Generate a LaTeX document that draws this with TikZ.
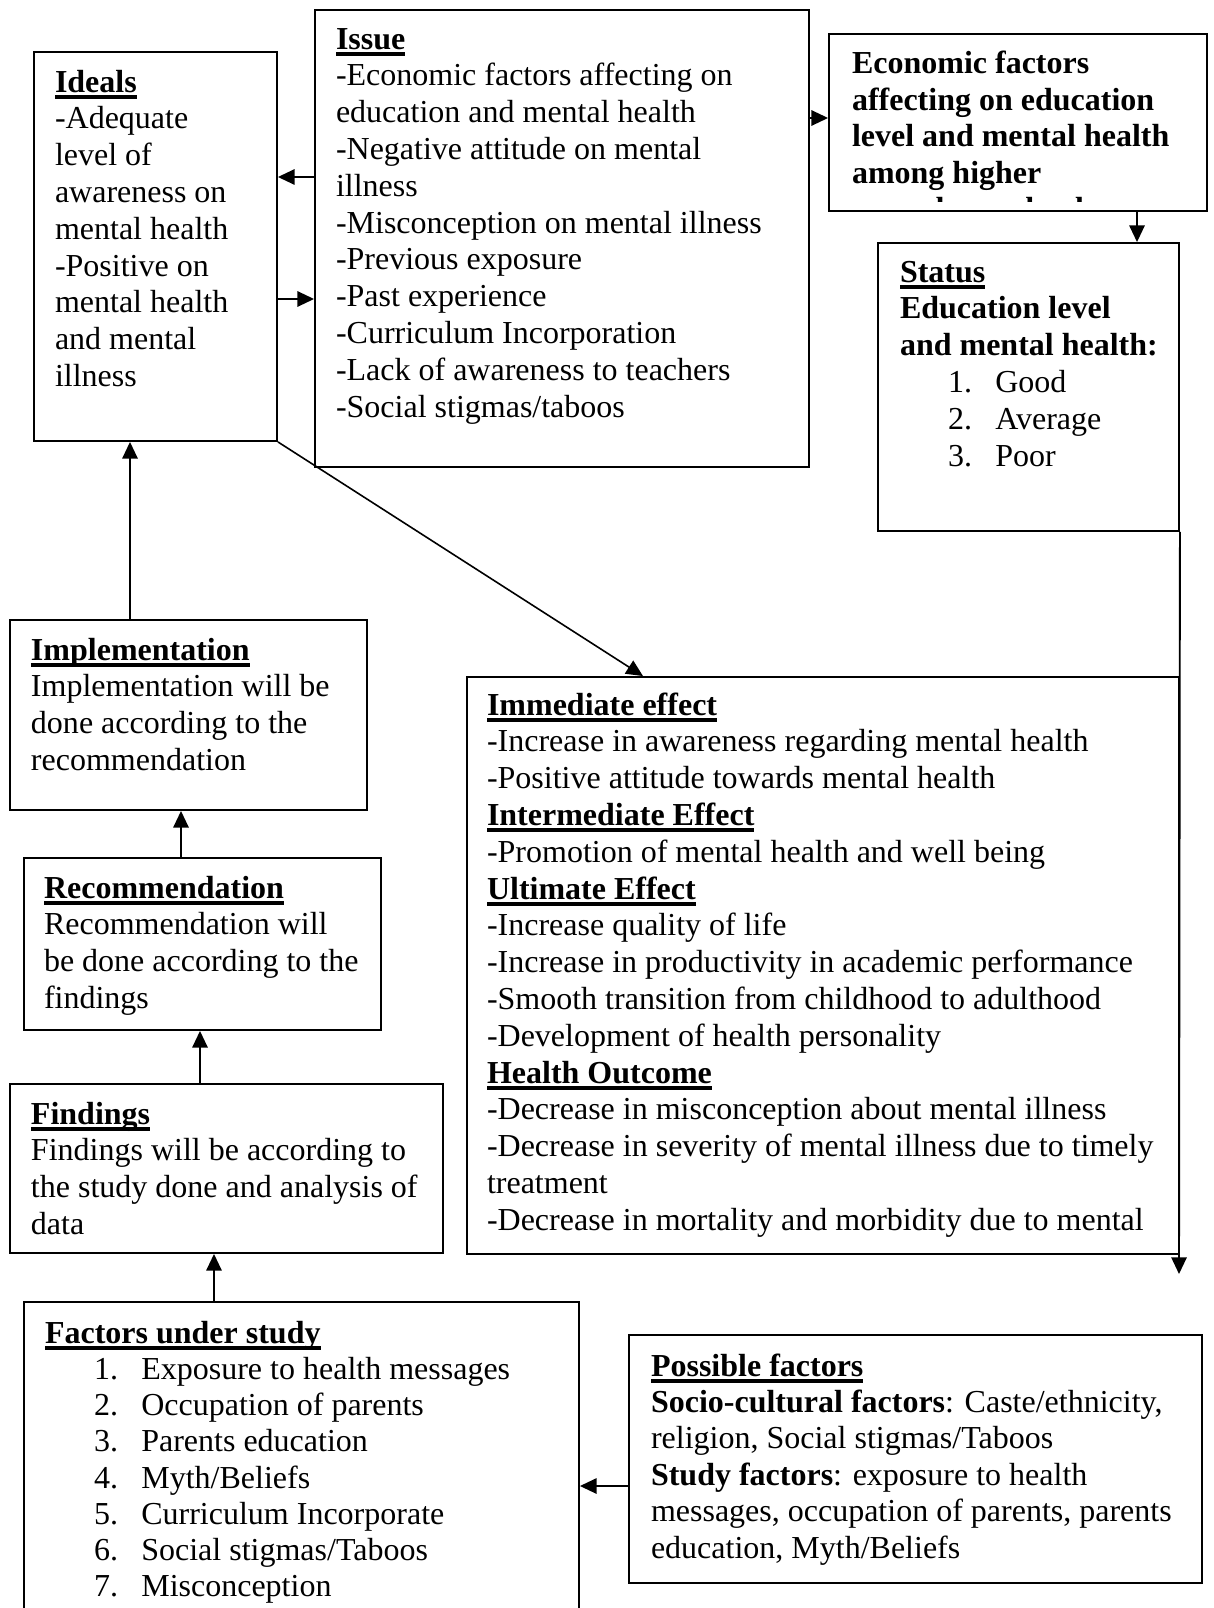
\documentclass[tikz,border=0pt]{standalone}
\usepackage{fontspec}
\setmainfont{Liberation Serif}
\usetikzlibrary{arrows.meta,fit}
\newcommand\hdr[1]{\setbox0\hbox{\bfseries #1}\rlap{\rule[-5.25pt]{\wd0}{3pt}}\box0}
\newcommand\itm[1]{\makebox[35.5pt][l]{#1}}
\newcommand\fl{\rule{0pt}{19pt}}
\tikzset{
  boxst/.style={draw, line width=1.4pt, inner sep=0pt},
  txt/.style={inner sep=0pt, outer sep=0pt, anchor=north west, yshift=19pt, align=left, font=\fontsize{24}{27.6}\selectfont},
  arr/.style={line width=1.4pt, -{Triangle[length=12.5pt,width=11.5pt]}},
}
\begin{document}
\begin{tikzpicture}[x=0.75pt,y=-0.75pt]
\useasboundingbox (0,0) rectangle (1213,1608);
\clip (0,0) rectangle (1213,1608);
\fill[white] (0,0) rectangle (1213,1608);

% boxes
\node[boxst, fit={(34,52) (277,441)}] (ideals) {};
\node[boxst, fit={(315,10) (809,467)}] (issue) {};
\node[boxst, fit={(829,34) (1207,211)}] (econ) {};
\node[boxst, fit={(878,243) (1179,531)}] (status) {};
\node[boxst, fit={(467,677) (1179,1254)}] (effect) {};
\node[boxst, fit={(10,620) (367,810)}] (impl) {};
\node[boxst, fit={(24,858) (381,1030)}] (rec) {};
\node[boxst, fit={(10,1084) (443,1253)}] (find) {};
\node[boxst, fit={(24,1302) (579,1640)}] (factors) {};
\node[boxst, fit={(629,1335) (1202,1583)}] (possible) {};

% texts
\node[txt] (tideals) at (55,92) {\fl\hdr{Ideals}\\-Adequate\\level of\\awareness on\\mental health\\-Positive on\\mental health\\and mental\\illness};
\node[txt] (tissue) at (336,49) {\fl\hdr{Issue}\\-Economic factors affecting on\\education and mental health\\-Negative attitude on mental\\illness\\-Misconception on mental illness\\-Previous exposure\\-Past experience\\-Curriculum Incorporation\\-Lack of awareness to teachers\\-Social stigmas/taboos};
\begin{scope}
\clip (829,34) rectangle (1207,202);
\node[txt, font=\fontsize{24}{27.3}\selectfont\bfseries] (tecon) at (852,74) {\fl Economic factors\\affecting on education\\level and mental health\\among higher\\secondary school};
\end{scope}
\node[txt] (tstatus) at (900,282) {\fl\hdr{Status}\\\textbf{Education level}\\\textbf{and mental health:}\\\hspace{36pt}\itm{1.}Good\\\hspace{36pt}\itm{2.}Average\\\hspace{36pt}\itm{3.}Poor};
\node[txt] (timpl) at (31,660) {\fl\hdr{Implementation}\\Implementation will be\\done according to the\\recommendation};
\node[txt] (trec) at (44,898) {\fl\hdr{Recommendation}\\Recommendation will\\be done according to the\\findings};
\node[txt] (tfind) at (31,1124) {\fl\hdr{Findings}\\Findings will be according to\\the study done and analysis of\\data};
\node[txt] (teffect) at (487,715) {\fl\hdr{Immediate effect}\\-Increase in awareness regarding mental health\\-Positive attitude towards mental health\\\hdr{Intermediate Effect}\\-Promotion of mental health and well being\\\hdr{Ultimate Effect}\\-Increase quality of life\\-Increase in productivity in academic performance\\-Smooth transition from childhood to adulthood\\-Development of health personality\\\hdr{Health Outcome}\\-Decrease in misconception about mental illness\\-Decrease in severity of mental illness due to timely\\treatment\\-Decrease in mortality and morbidity due to mental};
\node[txt, font=\fontsize{24}{27.2}\selectfont] (tfactors) at (45,1343) {\fl\hdr{Factors under study}\\\hspace{36.75pt}\itm{1.}Exposure to health messages\\\hspace{36.75pt}\itm{2.}Occupation of parents\\\hspace{36.75pt}\itm{3.}Parents education\\\hspace{36.75pt}\itm{4.}Myth/Beliefs\\\hspace{36.75pt}\itm{5.}Curriculum Incorporate\\\hspace{36.75pt}\itm{6.}Social stigmas/Taboos\\\hspace{36.75pt}\itm{7.}Misconception};
\node[txt, font=\fontsize{24}{27.3}\selectfont] (tpossible) at (651,1376) {\fl\hdr{Possible factors}\\\textbf{Socio-cultural factors}: Caste/ethnicity,\\religion, Social stigmas/Taboos\\\textbf{Study factors}: exposure to health\\messages, occupation of parents, parents\\education, Myth/Beliefs};

% connectors
\coordinate (endst) at (1179,1274);
\draw[arr] (issue.west |- 0,177) -- (ideals.east |- 0,177);
\draw[arr] (ideals.east |- 0,299) -- (issue.west |- 0,299);
\draw[arr] (issue.east |- 0,118) -- (econ.west |- 0,118);
\draw[arr] (econ.south -| 1137,0) -- (status.north -| 1137,0);
\draw[arr] (status.south east) -- (endst);
\draw[arr, line width=1.2pt] (ideals.south east) -- (effect.north -| 643,0);
\draw[arr] (impl.north -| 130,0) -- (ideals.south -| 130,0);
\draw[arr] (rec.north -| 181,0) -- (impl.south -| 181,0);
\draw[arr] (find.north -| 200,0) -- (rec.south -| 200,0);
\draw[arr] (factors.north -| 214,0) -- (find.south -| 214,0);
\draw[arr] (possible.west |- 0,1486) -- (factors.east |- 0,1486);
\end{tikzpicture}
\end{document}
